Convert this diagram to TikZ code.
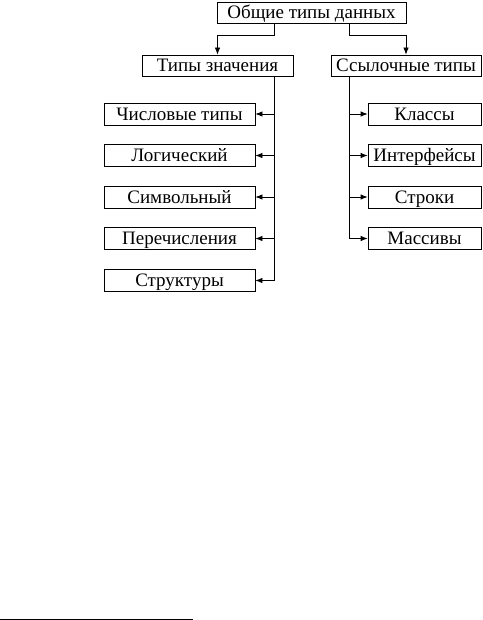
\documentclass[tikz,border=0pt]{standalone}
\usepackage{fontspec}
\setmainfont{Liberation Serif}
\usetikzlibrary{arrows.meta}
\begin{document}
\begin{tikzpicture}[x=1pt,y=-1pt,
  box/.style={draw,line width=0.8pt,inner sep=0pt,text height=14.6pt,text depth=2pt,font=\fontsize{19}{22}\selectfont},
  conn/.style={line width=0.8pt,-{Latex[length=7pt,width=5.5pt]}}]
\useasboundingbox (0,0) rectangle (482,620);
\node[box,minimum width=189pt,minimum height=21pt] (root) at (311.5,12.5) {Общие типы данных};
\node[box,minimum width=151pt,minimum height=21pt] (val) at (217.5,65.5) {Типы значения};
\node[box,minimum width=150pt,minimum height=21pt] (ref) at (406,65.5) {Ссылочные типы};
\foreach \n/\t/\y in {c1/Числовые типы/114, c2/Логический/155.5, c3/Символьный/197, c4/Перечисления/238.5, c5/Структуры/280.5}
  \node[box,minimum width=151pt,minimum height=22pt] (\n) at (179.5,\y) {\t};
\foreach \n/\t/\y in {r1/Классы/114, r2/Интерфейсы/155.5, r3/Строки/197, r4/Массивы/238.5}
  \node[box,minimum width=113pt,minimum height=22pt] (\n) at (424.5,\y) {\t};
\coordinate (a1) at (274,35);
\coordinate (a2) at (349,35);
\draw[conn] (a1 |- root.south) -- (a1) -| (val.north);
\draw[conn] (a2 |- root.south) -- (a2) -| (ref.north);
\coordinate (vx) at (274,0);
\coordinate (rx) at (349,0);
\draw[line width=0.8pt] (vx |- val.south) -- (vx |- c5.east);
\foreach \n in {c1,c2,c3,c4,c5}
  \draw[conn] (vx |- \n.east) -- (\n.east);
\draw[line width=0.8pt] (rx |- ref.south) -- (rx |- r4.west);
\foreach \n in {r1,r2,r3,r4}
  \draw[conn] (rx |- \n.west) -- (\n.west);
\coordinate (f1) at (0,619);
\coordinate (f2) at (193,619);
\draw[line width=1pt] (f1) -- (f2);
\end{tikzpicture}
\end{document}
